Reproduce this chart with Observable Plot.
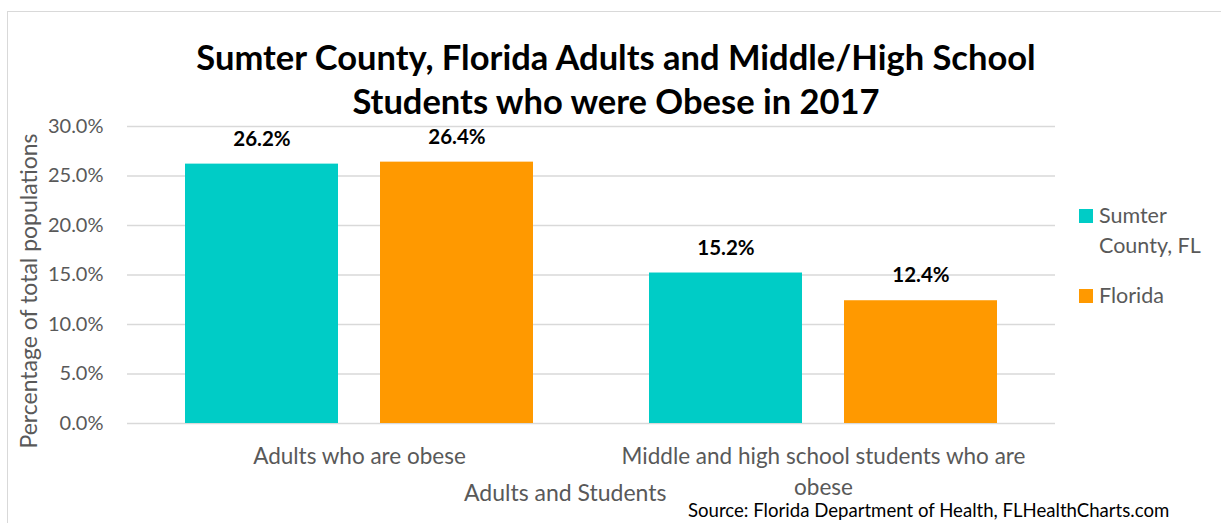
<!DOCTYPE html>
<html>
<head>
<meta charset="utf-8">
<script src="https://cdn.jsdelivr.net/npm/d3@7"></script>
<script src="https://cdn.jsdelivr.net/npm/@observablehq/plot@0.6"></script>
<style>
  html, body { margin: 0; padding: 0; background: #fff; }
  #wrap { position: relative; width: 1221px; height: 523px; overflow: hidden; font-family: Lato, "Open Sans", sans-serif; }
  #border { position: absolute; left: 7px; top: 11px; width: 1300px; height: 600px; border: 1.5px solid #d9d9d9; box-sizing: border-box; }
  #title { position: absolute; left: 0; width: 1232px; top: 35px; text-align: center; font-weight: bold; font-size: 34.5px; line-height: 44px; color: #000; }
  #chart { position: absolute; left: 0; top: 0; }
  .leg { position: absolute; font-size: 21.5px; color: #595959; line-height: 30px; }
  .sw { position: absolute; width: 14px; height: 14px; }
  #xtitle { position: absolute; left: 464px; top: 478px; font-size: 23px; color: #595959; white-space: nowrap; }
  #ytitle { position: absolute; left: 28px; top: 291px; transform: translate(-50%, -50%) rotate(-90deg); font-size: 23px; color: #595959; white-space: nowrap; }
  #source { position: absolute; left: 688px; top: 499px; font-size: 18.6px; color: #000; white-space: nowrap; }
</style>
</head>
<body>
<div id="wrap">
  <div id="border"></div>
  <div id="chart"></div>
  <div id="title"></div>
  <div id="ytitle"></div>
  <div id="xtitle"></div>
  <div id="legend"></div>
  <div id="source"></div>
</div>
<script>
const titleLines = ["Sumter County, Florida Adults and Middle/High School", "Students who were Obese in 2017"];
const categories = ["Adults who are obese", "Middle and high school students who are obese"];
const categoryLabels = ["Adults who are obese", "Middle and high school students who are\nobese"];
const series = ["Sumter County, FL", "Florida"];
const colors = ["#00CCC6", "#FF9900"];
const sumterValues = [26.2, 15.2];
const floridaValues = [26.4, 12.4];
const yTicks = [0, 5, 10, 15, 20, 25, 30];
const yLabel = "Percentage of total populations";
const xLabel = "Adults and Students";
const sourceText = "Source: Florida Department of Health, FLHealthCharts.com";

const data = [];
categories.forEach((c, i) => {
  data.push({category: c, series: series[0], value: sumterValues[i]});
  data.push({category: c, series: series[1], value: floridaValues[i]});
});

const gray = "#595959";
const chart = Plot.plot({
  width: 1221,
  height: 523,
  marginTop: 126,
  marginBottom: 100,
  marginLeft: 127,
  marginRight: 166,
  style: {fontFamily: "Lato, 'Open Sans', sans-serif", background: "transparent"},
  fx: {domain: categories, paddingInner: 0, paddingOuter: 0, label: null},
  x: {domain: series, paddingInner: 0.215, paddingOuter: 0.297, axis: null},
  y: {domain: [0, 30], label: null},
  color: {domain: series, range: colors},
  marks: [
    Plot.ruleY(yTicks, {stroke: "#d9d9d9", strokeWidth: 1.5}),
    Plot.barY(data, {fx: "category", x: "series", y: "value", fill: "series"}),
    Plot.text(data, {fx: "category", x: "series", y: "value", text: d => d.value.toFixed(1) + "%", dy: -25, fontWeight: "bold", fontSize: 20.5, fill: "#000"}),
    Plot.axisY({ticks: yTicks, tickSize: 0, tickPadding: 24, tickFormat: d => d.toFixed(1) + "%", fontSize: 20, color: gray, label: null}),
    Plot.axisFx({anchor: "bottom", tickSize: 0, tickPadding: 18, fontSize: 22.5, color: gray, lineHeight: 1.38, tickFormat: d => categoryLabels[categories.indexOf(d)], label: null})
  ]
});
document.getElementById("chart").appendChild(chart);

document.getElementById("title").innerHTML = titleLines.join("<br>");
document.getElementById("ytitle").textContent = yLabel;
document.getElementById("xtitle").textContent = xLabel;
document.getElementById("source").textContent = sourceText;

const leg = document.getElementById("legend");
const legPos = [{sq: 209, lines: ["Sumter", "County, FL"], ty: 200}, {sq: 289, lines: ["Florida"], ty: 280}];
series.forEach((s, i) => {
  const sw = document.createElement("div");
  sw.className = "sw";
  sw.style.left = "1079px";
  sw.style.top = legPos[i].sq + "px";
  sw.style.background = colors[i];
  leg.appendChild(sw);
  const t = document.createElement("div");
  t.className = "leg";
  t.style.left = "1099px";
  t.style.top = legPos[i].ty + "px";
  t.innerHTML = legPos[i].lines.join("<br>");
  leg.appendChild(t);
});
</script>
</body>
</html>
